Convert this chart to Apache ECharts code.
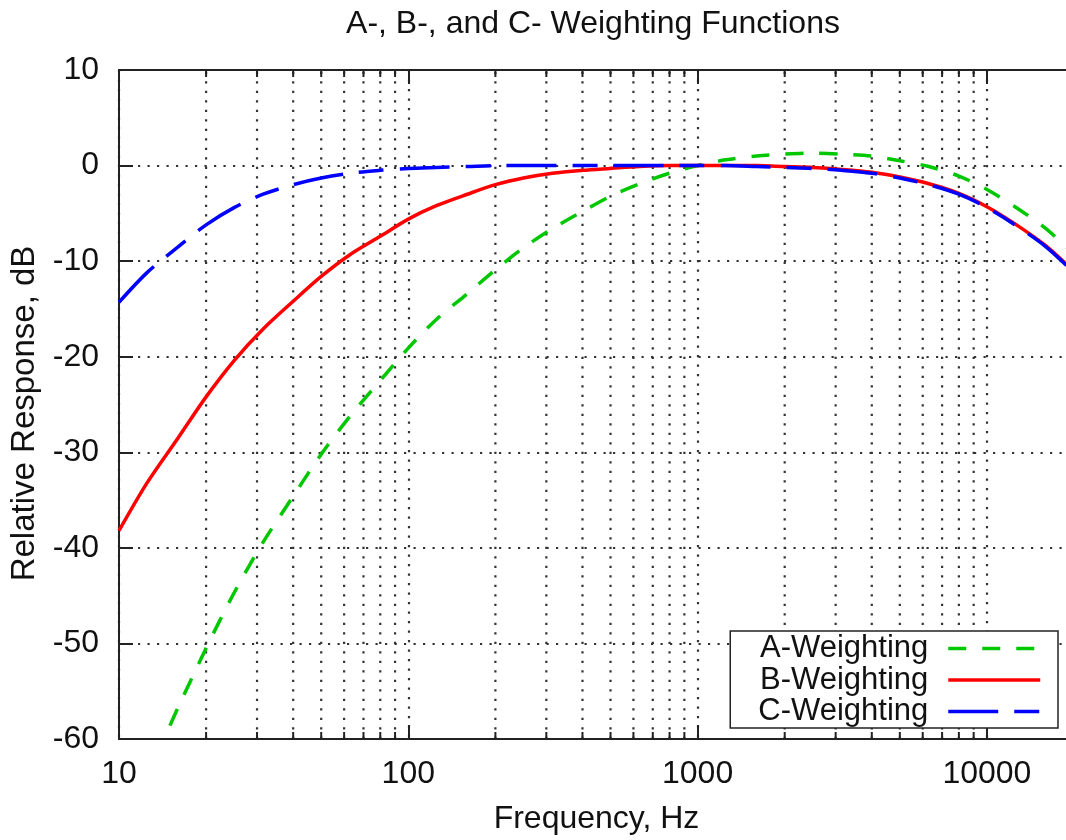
<!DOCTYPE html>
<html lang="en">
<head>
    <meta charset="utf-8">
    <title>A-, B-, and C- Weighting Functions</title>
    <style>
        html, body { margin: 0; padding: 0; background: #fff; overflow: hidden; }
        #chart { width: 1186px; height: 840px; }
    </style>
</head>
<body>
    <div id="chart"></div>
    <script src="https://cdn.jsdelivr.net/npm/echarts@6/dist/echarts.min.js"></script>
    <script type="text/javascript">
        // 1/3 octave centre frequencies, Hz
        var freq = [10, 12.5, 16, 20, 25, 31.5, 40, 50, 63, 80, 100, 125, 160, 200, 250, 315, 400, 500, 630, 800,
            1000, 1250, 1600, 2000, 2500, 3150, 4000, 5000, 6300, 8000, 10000, 12500, 16000, 20000];
        // A curve starts a bit later (about 15 Hz)
        var aFreq = [15, 16, 20, 25, 31.5, 40, 50, 63, 80, 100, 125, 160, 200, 250, 315, 400, 500, 630, 800,
            1000, 1250, 1600, 2000, 2500, 3150, 4000, 5000, 6300, 8000, 10000, 12500, 16000, 20000];
        var aWeight = [-58.6, -56.7, -50.5, -44.7, -39.4, -34.6, -30.2, -26.2, -22.5, -19.1, -16.1, -13.4, -10.9, -8.6, -6.6, -4.8, -3.2, -1.9, -0.8,
            0.0, 0.6, 1.0, 1.2, 1.3, 1.2, 1.0, 0.5, -0.1, -1.1, -2.5, -4.3, -6.6, -9.3];
        var bWeight = [-38.2, -33.2, -28.5, -24.2, -20.4, -17.1, -14.2, -11.6, -9.3, -7.4, -5.6, -4.2, -3.0, -2.0, -1.3, -0.8, -0.5, -0.3, -0.1, 0.0,
            0.0, 0.0, 0.0, -0.1, -0.2, -0.4, -0.7, -1.2, -1.9, -2.9, -4.3, -6.1, -8.4, -11.1];
        var cWeight = [-14.3, -11.2, -8.5, -6.2, -4.4, -3.0, -2.0, -1.3, -0.8, -0.5, -0.3, -0.2, -0.1, 0.0, 0.0, 0.0, 0.0, 0.0, 0.0, 0.0,
            0.0, 0.0, -0.1, -0.2, -0.3, -0.5, -0.8, -1.3, -2.0, -3.0, -4.4, -6.2, -8.5, -11.2];
        var names = ["A-Weighting", "B-Weighting", "C-Weighting"];
        // minor x ticks / grid
        var minorFreq = [20, 30, 40, 50, 60, 70, 80, 90, 200, 300, 400, 500, 600, 700, 800, 900,
            2000, 3000, 4000, 5000, 6000, 7000, 8000, 9000];
        var xMin = 10, xMax = 20000, yMin = -60, yMax = 10;

        var font = "'Liberation Sans', Arial, Helvetica, sans-serif";
        var ink = "#111";
        var dotted = { color: "#333", width: 2.2, type: [2.2, 7.3] };

        function pairs(xs, ys) {
            return xs.map(function (x, i) { return [x, ys[i]]; });
        }

        var chart = echarts.init(document.getElementById("chart"), null, { renderer: "canvas" });
        var option = {
            animation: false,
            backgroundColor: "#fff",
            textStyle: { fontFamily: font, color: ink },
            title: {
                text: "A-, B-, and C- Weighting Functions",
                left: "center",
                top: 3,
                textStyle: { fontFamily: font, fontSize: 32, fontWeight: "normal", color: ink }
            },
            grid: {
                left: 117, right: 112, top: 70, bottom: 99,
                show: true, borderColor: "#222", borderWidth: 2, backgroundColor: "transparent"
            },
            legend: {
                data: names,
                orient: "vertical",
                align: "right",
                right: 128,
                top: 631,
                padding: [2, 16, 1, 28],
                itemWidth: 92,
                itemHeight: 14,
                itemGap: 0.5,
                backgroundColor: "#fff",
                borderColor: "#222",
                borderWidth: 1.5,
                borderRadius: 0,
                itemStyle: { opacity: 0 },
                lineStyle: { width: 3.5 },
                textStyle: { fontFamily: font, fontSize: 31, lineHeight: 31, color: ink, padding: [0, 15, 0, 0] }
            },
            xAxis: [
                {
                    type: "log",
                    logBase: 10,
                    min: xMin,
                    max: xMax,
                    position: "bottom",
                    name: "Frequency, Hz",
                    nameLocation: "middle",
                    nameGap: 64,
                    nameTextStyle: { fontFamily: font, fontSize: 32, color: ink },
                    axisLine: { show: true, onZero: false, lineStyle: { color: "#222", width: 2 } },
                    axisTick: { show: true, inside: true, length: 14, lineStyle: { color: "#222", width: 2 } },
                    axisLabel: {
                        margin: 19, fontFamily: font, fontSize: 32, color: ink, showMaxLabel: false,
                        formatter: function (v) { return String(Math.round(v)); }
                    },
                    splitLine: { show: true, lineStyle: dotted },
                    minorTick: { show: false },
                    minorSplitLine: { show: false }
                },
                {
                    type: "log",
                    logBase: 10,
                    min: xMin,
                    max: xMax,
                    position: "top",
                    axisLine: { show: true, onZero: false, lineStyle: { color: "#222", width: 2 } },
                    axisTick: { show: true, inside: true, length: 14, lineStyle: { color: "#222", width: 2 } },
                    axisLabel: { show: false },
                    splitLine: { show: false }
                }
            ],
            yAxis: {
                type: "value",
                min: yMin,
                max: yMax,
                interval: 10,
                name: "Relative Response, dB",
                nameLocation: "middle",
                nameGap: 78,
                nameTextStyle: { fontFamily: font, fontSize: 33, color: ink, padding: [0, 18, 0, 0] },
                axisLine: { show: true, lineStyle: { color: "#222", width: 2 } },
                axisTick: { show: true, inside: true, length: 14, lineStyle: { color: "#222", width: 2 } },
                axisLabel: { margin: 20, fontFamily: font, fontSize: 32, color: ink },
                splitLine: { show: true, lineStyle: dotted }
            },
            series: [
                {
                    // minor grid lines + minor ticks
                    type: "custom",
                    silent: true,
                    z: 1,
                    clip: false,
                    data: minorFreq.map(function (f) { return [f, yMin]; }),
                    encode: { x: 0, y: 1 },
                    renderItem: function (params, api) {
                        var f = api.value(0);
                        var lo = api.coord([f, yMin]);
                        var hi = api.coord([f, yMax]);
                        var tick = { stroke: "#222", lineWidth: 2 };
                        return {
                            type: "group",
                            children: [
                                { type: "line", shape: { x1: lo[0], y1: lo[1], x2: hi[0], y2: hi[1] },
                                  style: { stroke: "#333", lineWidth: 2.2, lineDash: [2.2, 7.3] } },
                                { type: "line", shape: { x1: lo[0], y1: lo[1], x2: lo[0], y2: lo[1] - 7 }, style: tick },
                                { type: "line", shape: { x1: hi[0], y1: hi[1], x2: hi[0], y2: hi[1] + 7 }, style: tick }
                            ]
                        };
                    }
                },
                {
                    name: names[0],
                    type: "line",
                    data: pairs(aFreq, aWeight),
                    smooth: 0.3,
                    symbol: "none",
                    z: 3,
                    itemStyle: { color: "#00c800" },
                    lineStyle: { color: "#00c800", width: 3.5, type: [18, 16] }
                },
                {
                    name: names[1],
                    type: "line",
                    data: pairs(freq, bWeight),
                    smooth: 0.3,
                    symbol: "none",
                    z: 4,
                    itemStyle: { color: "#ff0000" },
                    lineStyle: { color: "#ff0000", width: 3.5, type: "solid" }
                },
                {
                    name: names[2],
                    type: "line",
                    data: pairs(freq, cWeight),
                    smooth: 0.3,
                    symbol: "none",
                    z: 5,
                    itemStyle: { color: "#0000ff" },
                    lineStyle: { color: "#0000ff", width: 3.5, type: [50, 16, 25, 16] }
                }
            ]
        };
        chart.setOption(option);
    </script>
</body>
</html>
